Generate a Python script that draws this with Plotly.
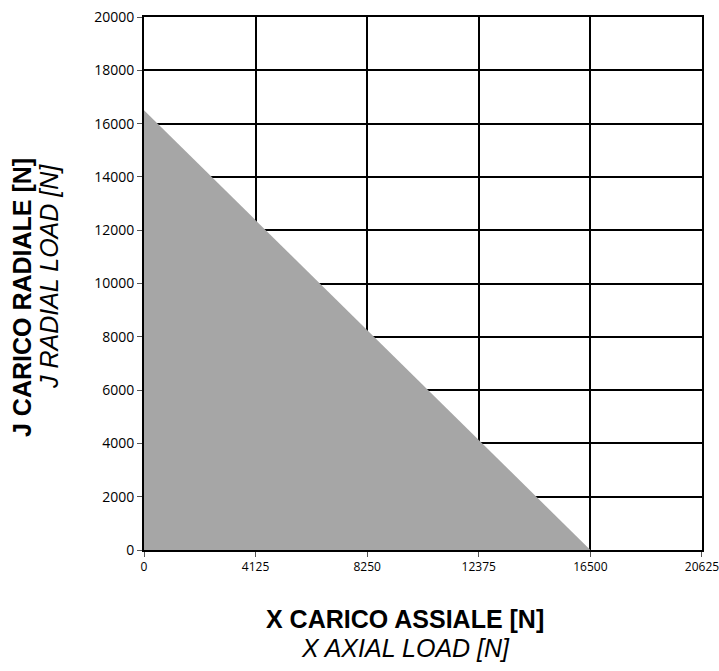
import plotly.graph_objects as go

# load limit polygon (axial X vs radial J), in N
axial_load = [0, 16500, 0, 0]
radial_load = [16500, 0, 0, 16500]
x_ticks = [0, 4125, 8250, 12375, 16500, 20625]
y_ticks = [0, 2000, 4000, 6000, 8000, 10000, 12000, 14000, 16000, 18000, 20000]

W, H = 719, 671
L, R, T, B = 144, 17, 17, 121
pw, ph = W - L - R, H - T - B


def px_x(p):
    return (p - L) / pw


def px_y(p):
    return (H - B - p) / ph


fig = go.Figure()
fig.add_trace(go.Scatter(x=axial_load, y=radial_load, mode="lines",
                         fill="toself", fillcolor="#a6a6a6",
                         line=dict(width=0, color="#a6a6a6"),
                         hoverinfo="skip", showlegend=False))

axis_common = dict(showline=True, linecolor="black", linewidth=2, mirror=True,
                   showgrid=True, gridcolor="black", gridwidth=1.5,
                   zeroline=False, ticks="outside", ticklen=5, tickcolor="#555",
                   tickwidth=1, automargin=False, ticklabeloverflow="allow")
fig.update_xaxes(range=[0, 20626], tickvals=x_ticks,
                 ticktext=[str(v) for v in x_ticks],
                 tickfont=dict(family="Open Sans", size=12, color="black"),
                 **axis_common)
fig.update_yaxes(range=[0, 20001], tickvals=y_ticks,
                 ticktext=[str(v) for v in y_ticks],
                 tickfont=dict(family="Open Sans", size=14, color="black"),
                 **axis_common)

title_font = "Liberation Sans"
titles = [
    ("<b>J CARICO RADIALE [N]</b>", 22, 298, -90),
    ("<i>J RADIAL LOAD [N]</i>", 49, 277, -90),
    ("<b>X CARICO ASSIALE [N]</b>", 405, 619, 0),
    ("<i>X AXIAL LOAD [N]</i>", 405, 648, 0),
]
for text, tx, ty, ang in titles:
    fig.add_annotation(text=text, xref="paper", yref="paper",
                       x=px_x(tx), y=px_y(ty), xanchor="center", yanchor="middle",
                       textangle=ang, showarrow=False,
                       font=dict(family=title_font, size=25, color="black"))

fig.update_layout(width=W, height=H, margin=dict(l=L, r=R, t=T, b=B),
                  plot_bgcolor="white", paper_bgcolor="white")
fig.write_html("out.html", config={"displayModeBar": False},
               post_script="document.body.style.margin='0';")
